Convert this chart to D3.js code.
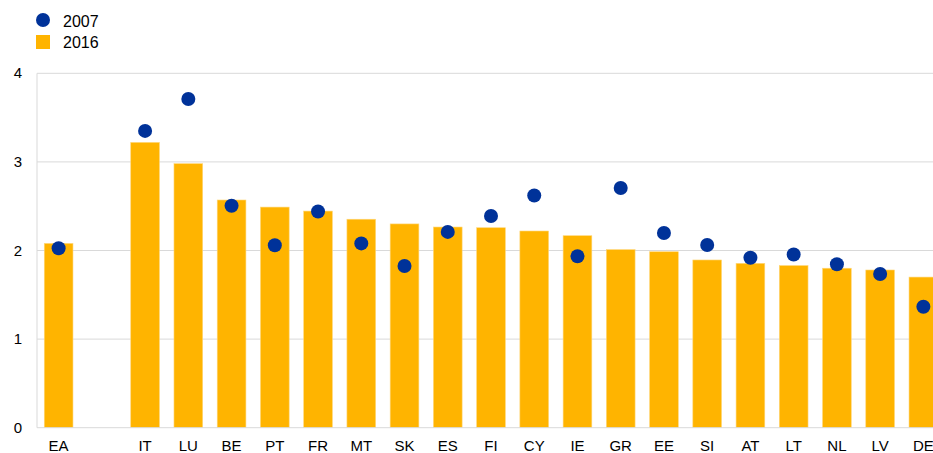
<!DOCTYPE html>
<html>
<head>
<meta charset="utf-8">
<script src="https://cdn.jsdelivr.net/npm/d3@7"></script>
<style>
body { margin: 0; background: #fff; }
svg { font-family: "Liberation Sans", Arial, sans-serif; }
</style>
</head>
<body>
<div id="chart"></div>
<script>
const width = 933;
const height = 453;

// "" is the empty slot between EA and the countries
const countries = ["EA", "", "IT", "LU", "BE", "PT", "FR", "MT", "SK", "ES", "FI", "CY", "IE", "GR", "EE", "SI", "AT", "LT", "NL", "LV", "DE"];
const values2016 = [2.08, null, 3.22, 2.98, 2.57, 2.49, 2.445, 2.353, 2.30, 2.265, 2.257, 2.22, 2.167, 2.01, 1.986, 1.893, 1.855, 1.83, 1.80, 1.78, 1.70];
const values2007 = [2.025, null, 3.35, 3.71, 2.505, 2.06, 2.44, 2.08, 1.825, 2.21, 2.39, 2.62, 1.935, 2.705, 2.197, 2.062, 1.919, 1.955, 1.845, 1.735, 1.365];
const yTicks = [0, 1, 2, 3, 4];
const legendLabels = ["2007", "2016"];

const barColor = "#ffb400";
const dotColor = "#003299";

const svg = d3.select("#chart")
	.append("svg")
	.attr("width", width)
	.attr("height", height);

const x = d3.scaleBand()
	.domain(d3.range(countries.length))
	.range([37, 945])
	.paddingInner(0.336)
	.paddingOuter(0.168);

const y = d3.scaleLinear()
	.domain([0, 4])
	.range([427.7, 73.3]);

// gridlines
svg.append("g")
	.selectAll("line")
	.data(yTicks.slice(1))
	.enter()
	.append("line")
	.attr("x1", 37)
	.attr("x2", width)
	.attr("y1", d => y(d))
	.attr("y2", d => y(d))
	.attr("stroke", "#d9d9d9")
	.attr("stroke-width", 1);

// left axis line
svg.append("line")
	.attr("x1", 37).attr("x2", 37)
	.attr("y1", y(4)).attr("y2", y(0))
	.attr("stroke", "#d9d9d9");

// y tick labels
svg.append("g")
	.selectAll("text")
	.data(yTicks)
	.enter()
	.append("text")
	.attr("x", 22)
	.attr("y", d => y(d) + 5)
	.attr("text-anchor", "end")
	.attr("font-size", 15)
	.attr("fill", "#000")
	.text(d => d);

// bars
svg.append("g")
	.selectAll("rect")
	.data(values2016.map((v, i) => ({v, i})).filter(d => d.v !== null))
	.enter()
	.append("rect")
	.attr("x", d => x(d.i))
	.attr("width", x.bandwidth())
	.attr("y", d => y(d.v))
	.attr("height", d => y(0) - y(d.v))
	.attr("fill", barColor)
	.attr("stroke", "#ffd77a")
	.attr("stroke-width", 0.6);

// bottom axis line
svg.append("line")
	.attr("x1", 37).attr("x2", width)
	.attr("y1", y(0)).attr("y2", y(0))
	.attr("stroke", "#d9d9d9");

// dots
svg.append("g")
	.selectAll("circle")
	.data(values2007.map((v, i) => ({v, i})).filter(d => d.v !== null))
	.enter()
	.append("circle")
	.attr("cx", d => x(d.i) + x.bandwidth() / 2)
	.attr("cy", d => y(d.v))
	.attr("r", 7)
	.attr("fill", dotColor);

// category labels
svg.append("g")
	.selectAll("text")
	.data(countries)
	.enter()
	.append("text")
	.attr("x", (d, i) => x(i) + x.bandwidth() / 2)
	.attr("y", 451)
	.attr("text-anchor", "middle")
	.attr("font-size", 15)
	.attr("fill", "#000")
	.text(d => d);

// legend
const legend = svg.append("g");
legend.append("circle")
	.attr("cx", 43).attr("cy", 20).attr("r", 7)
	.attr("fill", dotColor);
legend.append("rect")
	.attr("x", 36).attr("y", 35).attr("width", 14).attr("height", 14)
	.attr("fill", barColor);
legend.selectAll("text")
	.data(legendLabels)
	.enter()
	.append("text")
	.attr("x", 63)
	.attr("y", (d, i) => 27 + i * 21)
	.attr("font-size", 16)
	.attr("fill", "#000")
	.text(d => d);
</script>
</body>
</html>
